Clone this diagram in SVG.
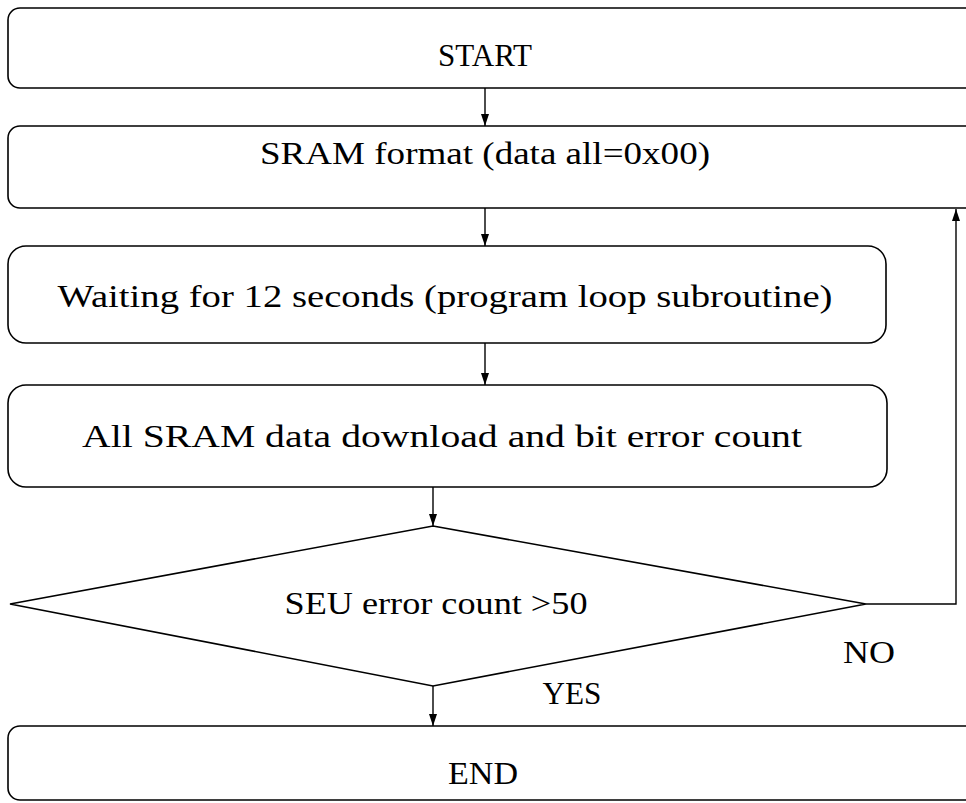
<svg xmlns="http://www.w3.org/2000/svg" width="966" height="803" viewBox="0 0 966 803">
  <style>
    .box { fill: none; stroke: #000; stroke-width: 1.6; }
    .edge { fill: none; stroke: #000; stroke-width: 1.4; }
    .lbl { font-family: "Liberation Serif", "DejaVu Serif", serif; font-size: 31px; fill: #000; }
  </style>
  <defs>
    <marker id="arrow" viewBox="0 0 12 10" refX="12" refY="5" markerWidth="12" markerHeight="10" markerUnits="userSpaceOnUse" orient="auto">
      <path d="M0,1 L12,5 L0,9 Z" fill="#000"/>
    </marker>
  </defs>
  <rect width="966" height="803" fill="#fff"/>

  <!-- process steps -->
  <g id="start">
    <rect class="box" x="8" y="8" width="1000" height="80" rx="12"/>
    <text class="lbl" x="485" y="66" text-anchor="middle" textLength="94" lengthAdjust="spacingAndGlyphs">START</text>
  </g>

  <g id="format">
    <rect class="box" x="8" y="126" width="1000" height="82" rx="12"/>
    <text class="lbl" x="485" y="164" text-anchor="middle" textLength="450" lengthAdjust="spacingAndGlyphs">SRAM format (data all=0x00)</text>
  </g>

  <g id="wait">
    <rect class="box" x="8" y="246" width="878" height="97" rx="18"/>
    <text class="lbl" x="445" y="307" text-anchor="middle" textLength="775" lengthAdjust="spacingAndGlyphs">Waiting for 12 seconds (program loop subroutine)</text>
  </g>

  <g id="download">
    <rect class="box" x="8" y="385" width="879" height="102" rx="18"/>
    <text class="lbl" x="442" y="447" text-anchor="middle" textLength="720" lengthAdjust="spacingAndGlyphs">All SRAM data download and bit error count</text>
  </g>

  <g id="decision">
    <polygon class="box" points="433,526 866,604 433,686 10,604"/>
    <text class="lbl" x="436" y="614" text-anchor="middle" textLength="303" lengthAdjust="spacingAndGlyphs">SEU error count &gt;50</text>
  </g>

  <g id="end">
    <rect class="box" x="8" y="726" width="1000" height="74" rx="12"/>
    <text class="lbl" x="483" y="784" text-anchor="middle" textLength="70" lengthAdjust="spacingAndGlyphs">END</text>
  </g>

  <!-- flow lines and branch labels -->
  <g id="connectors">
    <line class="edge" x1="485" y1="88" x2="485" y2="126" marker-end="url(#arrow)"/>
    <line class="edge" x1="485" y1="208" x2="485" y2="246" marker-end="url(#arrow)"/>
    <line class="edge" x1="485" y1="343" x2="485" y2="385" marker-end="url(#arrow)"/>
    <line class="edge" x1="433" y1="487" x2="433" y2="526" marker-end="url(#arrow)"/>
    <line class="edge" x1="433" y1="686" x2="433" y2="726" marker-end="url(#arrow)"/>
    <polyline class="edge" points="866,604 956,604 956,209" marker-end="url(#arrow)"/>
    <text class="lbl" x="869" y="663" text-anchor="middle" textLength="52" lengthAdjust="spacingAndGlyphs">NO</text>
    <text class="lbl" x="572" y="704" text-anchor="middle" textLength="59" lengthAdjust="spacingAndGlyphs">YES</text>
  </g>
</svg>
